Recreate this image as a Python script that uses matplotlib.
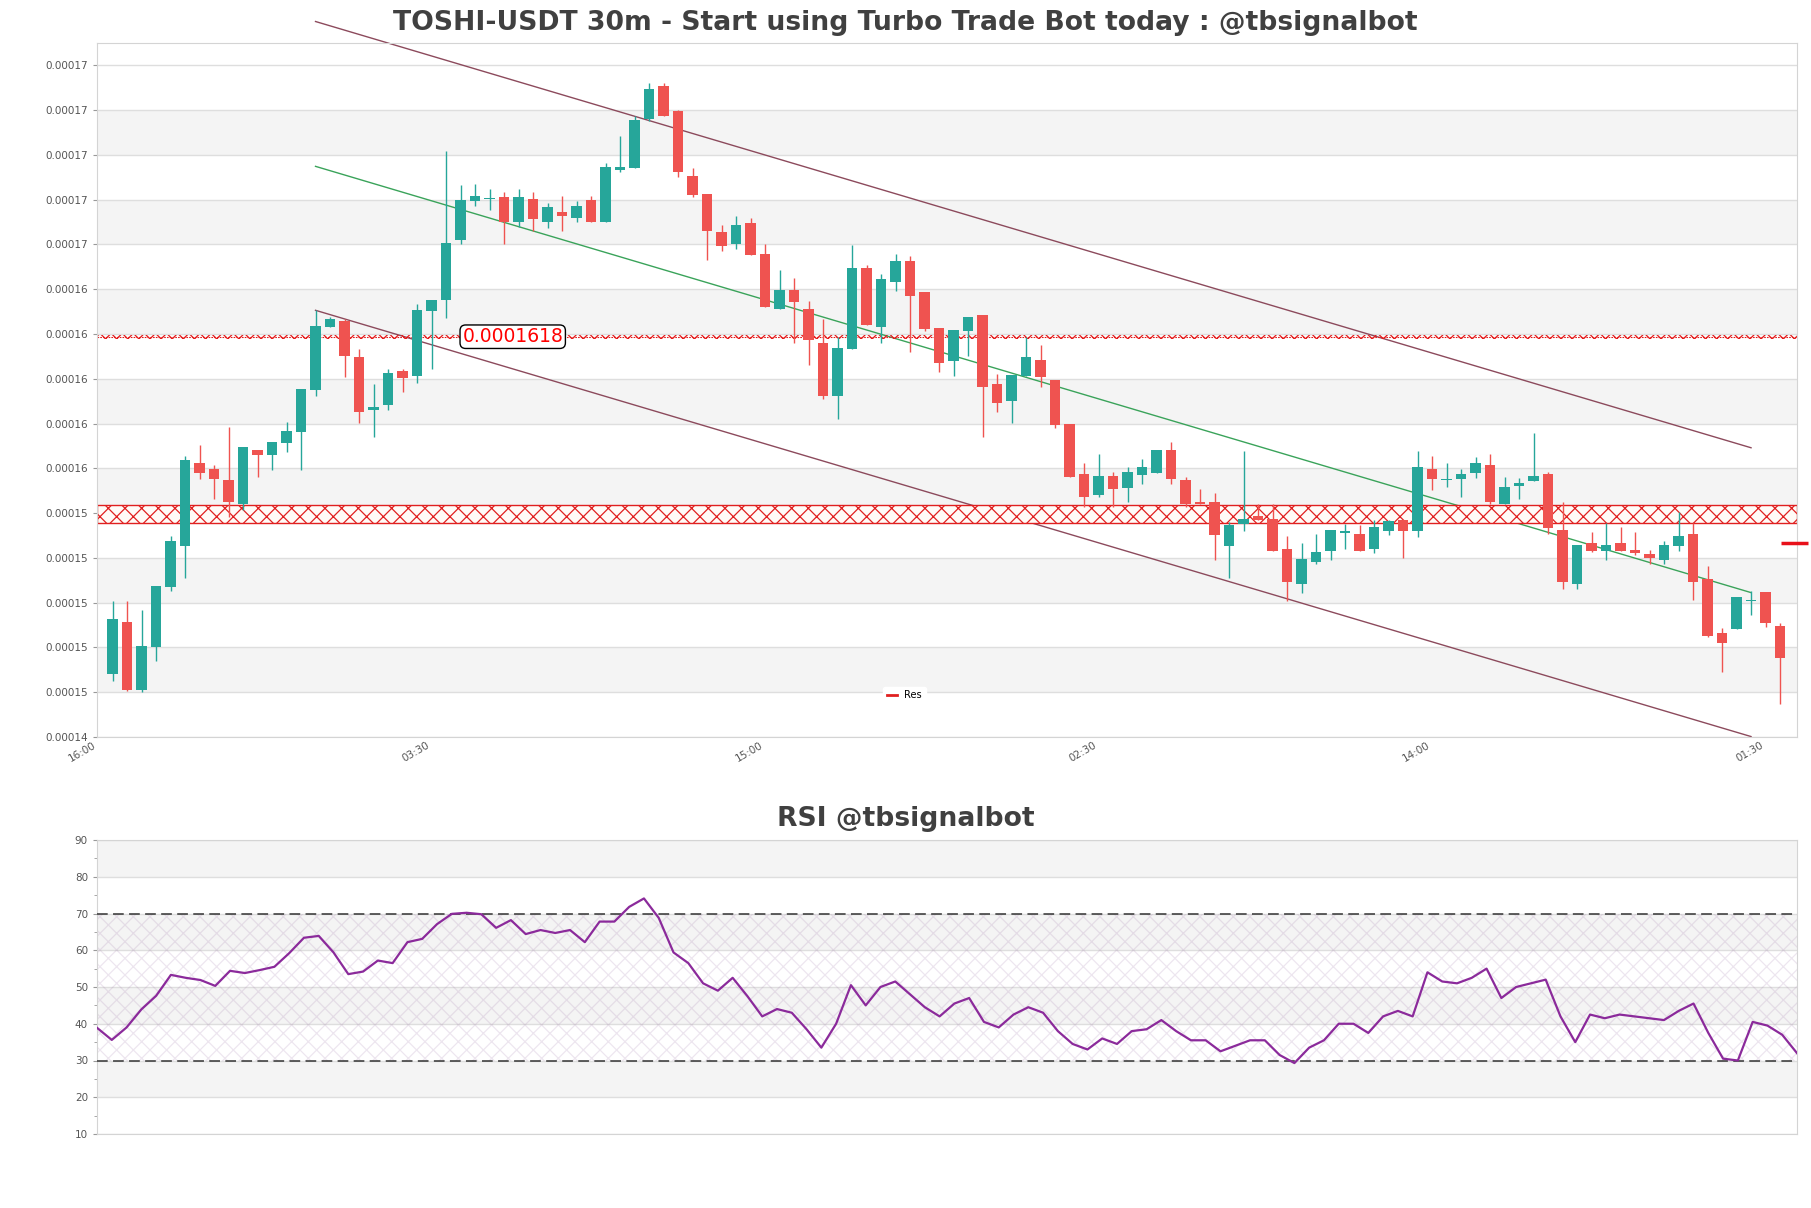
import numpy as np
import matplotlib.pyplot as plt
from matplotlib.lines import Line2D
from matplotlib.ticker import FormatStrFormatter, MultipleLocator

# prices are read in units of 1e-6 USDT, one candle every 30 min starting at 16:30
opens = [146.81, 149.13, 146.10, 148.03, 150.71, 152.54, 156.22, 155.96, 155.47, 154.42,
         156.84, 156.60, 157.14, 157.63, 159.49, 162.32, 162.57, 160.98, 158.60, 158.82,
         160.34, 160.13, 163.03, 163.51, 166.20, 167.94, 168.02, 168.13, 167.00, 168.04,
         167.00, 167.44, 167.20, 167.97, 167.00, 169.31, 169.42, 171.59, 173.06, 171.95,
         169.04, 168.24, 166.54, 166.01, 166.95, 165.56, 163.12, 163.96, 163.13, 161.60,
         159.24, 161.33, 164.94, 162.32, 164.33, 165.25, 163.87, 162.26, 160.79, 162.14,
         162.84, 159.76, 159.00, 160.12, 160.83, 159.94, 157.97, 155.74, 154.80, 155.65,
         155.14, 155.71, 155.80, 156.84, 155.47, 154.51, 154.51, 152.54, 153.53, 153.87,
         153.72, 152.42, 150.84, 151.81, 152.32, 153.12, 153.06, 152.39, 153.21, 153.71,
         153.21, 155.96, 155.46, 155.53, 155.80, 156.13, 154.40, 155.21, 155.44, 155.74,
         153.24, 150.84, 152.65, 152.32, 152.65, 152.35, 152.17, 151.90, 152.54, 153.06,
         151.05, 148.63, 148.83, 150.07, 150.46, 148.96]
highs = [150.07, 150.07, 149.67, 150.74, 152.97, 156.54, 157.04, 156.14, 157.84, 156.95,
         156.84, 157.17, 158.06, 159.54, 163.06, 162.76, 162.69, 161.35, 159.76, 160.46,
         160.46, 163.32, 163.54, 170.16, 168.64, 168.72, 168.46, 168.33, 168.46, 168.33,
         167.85, 168.17, 167.94, 168.15, 169.66, 170.83, 171.73, 173.22, 173.22, 172.02,
         169.43, 168.24, 166.86, 167.26, 167.17, 166.04, 164.85, 164.52, 163.46, 162.69,
         161.87, 165.96, 165.07, 164.67, 165.56, 165.47, 163.87, 162.26, 162.17, 162.75,
         162.84, 160.23, 160.16, 161.87, 161.53, 159.94, 157.97, 156.22, 156.63, 155.82,
         156.04, 156.44, 156.84, 157.17, 155.61, 155.07, 154.92, 153.61, 156.77, 154.43,
         154.43, 152.97, 152.65, 153.09, 153.24, 153.51, 153.46, 153.69, 153.69, 153.71,
         156.78, 156.54, 156.22, 155.95, 156.51, 156.63, 155.62, 155.55, 157.58, 155.82,
         154.50, 152.57, 153.15, 153.57, 153.39, 153.15, 152.35, 152.75, 154.06, 153.54,
         151.63, 148.85, 150.24, 150.53, 150.46, 149.10]
lows = [146.51, 146.05, 146.00, 147.41, 150.53, 151.11, 155.53, 154.64, 153.83, 154.13,
        155.61, 155.92, 156.72, 155.92, 159.22, 162.32, 160.06, 158.03, 157.41, 158.60,
        159.42, 159.82, 160.46, 162.72, 166.04, 167.72, 167.53, 166.04, 166.78, 166.59,
        166.73, 166.59, 166.99, 167.00, 167.00, 169.24, 169.42, 171.51, 171.73, 169.01,
        168.12, 165.29, 165.70, 165.79, 165.55, 163.21, 163.12, 161.60, 160.63, 159.12,
        158.20, 161.33, 162.39, 161.60, 163.92, 161.21, 162.14, 160.31, 160.13, 161.02,
        157.41, 158.52, 158.03, 160.12, 159.64, 157.80, 155.61, 154.28, 154.73, 154.28,
        154.51, 155.29, 155.80, 155.29, 154.28, 154.40, 151.90, 151.11, 153.21, 153.69,
        152.32, 150.08, 150.44, 151.72, 151.90, 152.42, 152.32, 152.23, 153.02, 152.00,
        152.94, 155.03, 155.15, 154.73, 155.55, 154.40, 154.40, 154.64, 155.44, 153.06,
        150.61, 150.61, 152.25, 151.90, 152.32, 152.13, 151.75, 151.75, 152.32, 150.12,
        148.45, 146.92, 148.83, 149.43, 148.92, 145.47]
closes = [149.27, 146.10, 148.06, 150.74, 152.75, 156.37, 155.80, 155.53, 154.51, 156.95,
          156.60, 157.17, 157.66, 159.54, 162.35, 162.66, 161.02, 158.52, 158.72, 160.24,
          160.04, 163.06, 163.54, 166.05, 167.97, 168.15, 168.06, 167.00, 168.13, 167.14,
          167.66, 167.29, 167.71, 167.00, 169.45, 169.45, 171.54, 172.93, 171.73, 169.24,
          168.20, 166.60, 165.93, 166.86, 165.55, 163.21, 163.96, 163.44, 161.75, 159.25,
          161.36, 164.94, 162.39, 164.46, 165.25, 163.70, 162.21, 160.71, 162.17, 162.75,
          159.64, 158.93, 160.16, 160.96, 160.06, 157.95, 155.61, 154.73, 155.65, 155.06,
          155.82, 156.04, 156.84, 155.53, 154.40, 154.42, 153.03, 153.45, 153.73, 153.69,
          152.32, 150.93, 151.95, 152.25, 153.24, 153.15, 152.32, 153.38, 153.64, 153.21,
          156.04, 155.53, 155.49, 155.73, 156.22, 154.49, 155.15, 155.35, 155.65, 153.34,
          150.93, 152.57, 152.32, 152.57, 152.32, 152.20, 152.00, 152.57, 152.97, 150.93,
          148.51, 148.21, 150.24, 150.09, 149.09, 147.54]

rsi = [38.9, 35.6, 39.0, 43.9, 47.6, 53.3, 52.5, 51.9, 50.3, 54.4,
       53.8, 54.6, 55.5, 59.2, 63.4, 63.9, 59.4, 53.5, 54.2, 57.2,
       56.5, 62.2, 63.1, 67.1, 69.9, 70.2, 69.8, 66.1, 68.2, 64.4,
       65.5, 64.7, 65.5, 62.2, 67.8, 67.8, 71.8, 74.1, 68.8, 59.4,
       56.5, 51.0, 49.0, 52.5, 47.5, 42.0, 44.0, 43.0, 38.5, 33.5,
       40.0, 50.5, 45.0, 50.0, 51.5, 48.0, 44.5, 42.0, 45.5, 47.0,
       40.5, 39.0, 42.5, 44.5, 43.0, 38.0, 34.5, 33.0, 36.0, 34.5,
       38.0, 38.5, 41.0, 38.0, 35.5, 35.5, 32.5, 34.0, 35.5, 35.5,
       31.5, 29.3, 33.5, 35.5, 40.0, 40.0, 37.5, 42.0, 43.5, 42.0,
       54.0, 51.5, 51.0, 52.5, 55.0, 47.0, 50.0, 51.0, 52.0, 42.0,
       35.0, 42.5, 41.5, 42.5, 42.0, 41.5, 41.0, 43.5, 45.5, 37.5,
       30.5, 30.0, 40.5, 39.5, 37.0, 32.0]

# x tick labels (candle index -> time)
tick_pos = [-1, 22, 45, 68, 91, 114]
tick_labels = ['16:00', '03:30', '15:00', '02:30', '14:00', '01:30']

# levels and channel lines
res_level = 161.8
res_zone = [153.54, 154.36]
last_price = 152.66
chan_x = [14, 113]
chan_upper = [175.96, 156.92]
chan_mid = [169.49, 150.45]
chan_lower = [163.06, 144.02]

scale = 1e-6
o = np.array(opens) * scale
h = np.array(highs) * scale
l = np.array(lows) * scale
c = np.array(closes) * scale
x = np.arange(len(o))

W, H = 1811, 1208
fig = plt.figure(figsize=(W / 100, H / 100), dpi=100)
ax = fig.add_axes([97 / W, 1 - 737 / H, 1700 / W, 694 / H])
ax2 = fig.add_axes([97 / W, 1 - 1134 / H, 1700 / W, 294 / H])

band_color = '#f4f4f4'
grid_color = '#dedede'
spine_color = '#d4d4d4'
text_color = '#555555'
plt.rcParams['hatch.linewidth'] = 0.9

def style_axes(a, ticks):
    # alternating gray bands between tick lines
    for i in range(len(ticks) - 1):
        if i % 2 == 1:
            a.axhspan(ticks[i], ticks[i + 1], color=band_color, zorder=0, lw=0)
    a.set_yticks(ticks)
    a.yaxis.grid(True, color=grid_color, lw=1)
    a.set_axisbelow(True)
    for s in a.spines.values():
        s.set_color(spine_color)
    a.tick_params(labelsize=7.5, labelcolor=text_color, color='#999999', length=3)

# ---- price panel ----
yticks = np.arange(144, 175, 2) * scale
style_axes(ax, yticks)
ax.yaxis.set_major_formatter(FormatStrFormatter('%.5f'))
ax.set_ylim(144 * scale, 175 * scale)
ax.set_xlim(-1.07, 116.17)

up = c >= o
colors = np.where(up, '#26a69a', '#ef5350')
ax.vlines(x, l, h, colors=colors, lw=1, zorder=3)
body = np.maximum(np.abs(c - o), 0.07 * scale)
ax.bar(x, body, bottom=np.minimum(o, c), width=0.74, color=colors, lw=0, zorder=4)

# channel
ax.plot(chan_x, np.array(chan_upper) * scale, color='#8c4a5c', lw=1, clip_on=False, zorder=2)
ax.plot(chan_x, np.array(chan_lower) * scale, color='#8c4a5c', lw=1, clip_on=False, zorder=2)
ax.plot(chan_x, np.array(chan_mid) * scale, color='#3aa35a', lw=1, zorder=2)

# resistance line and zone
ax.axhspan((res_level - 0.01) * scale, (res_level + 0.15) * scale, facecolor='none',
           edgecolor='#e41a1a', hatch='xxx', lw=0, zorder=2)
ax.axhline((res_level + 0.07) * scale, color='#e41a1a', lw=0.8, ls=(0, (1.5, 1)), zorder=2)
ax.axhspan(res_zone[0] * scale, res_zone[1] * scale, facecolor='#fffbf7',
           edgecolor='#e02020', hatch='xx', lw=1, zorder=2)
ax.text(27.6, (res_level + 0.08) * scale, '0.0001618', color='red', fontsize=13.5,
        ha='center', va='center', zorder=6,
        bbox=dict(boxstyle='round,pad=0.12,rounding_size=0.3', fc='white', ec='black', lw=1))
ax.plot([115.1, 116.9], [last_price * scale] * 2, color='#e8101a', lw=2.5,
        clip_on=False, zorder=5, solid_capstyle='butt')

ax.set_xticks(tick_pos)
ax.set_xticklabels(tick_labels, rotation=30, ha='right', fontsize=7.5, color=text_color)
ax.tick_params(axis='x', length=0, pad=2)

handle = Line2D([], [], color='#e02020', lw=2)
ax.legend([handle], ['Res'], loc='lower center', bbox_to_anchor=(0.475, 0.04),
          fontsize=7, frameon=True, framealpha=1, edgecolor='white',
          handlelength=1.0, handletextpad=0.8, borderpad=0.4)

fig.text(0.5, 1 - 23 / H, 'TOSHI-USDT 30m - Start using Turbo Trade Bot today : @tbsignalbot',
         ha='center', va='center', fontsize=19.2, fontweight='bold', color='#404040')

# ---- RSI panel ----
rsi_ticks = np.arange(10, 91, 10)
style_axes(ax2, rsi_ticks)
ax2.yaxis.set_minor_locator(MultipleLocator(5))
ax2.tick_params(which='minor', color='#999999', length=2)
ax2.set_ylim(10, 90)
ax2.set_xlim(0, len(rsi) - 1)
ax2.set_xticks([])
ax2.axhspan(30, 70, facecolor='none', edgecolor=(0.55, 0.35, 0.6, 0.15),
            hatch='xx', lw=0, zorder=1)
ax2.axhline(70, color='#333333', lw=1.1, dashes=(7, 3.5), zorder=3)
ax2.axhline(30, color='#333333', lw=1.1, dashes=(7, 3.5), zorder=3)
ax2.plot(np.arange(len(rsi)), rsi, color='#8b2a9b', lw=1.6, zorder=4)

fig.text(0.5, 1 - 819 / H, 'RSI @tbsignalbot', ha='center', va='center',
         fontsize=19.2, fontweight='bold', color='#404040')

fig.savefig('out.png', dpi=100)
